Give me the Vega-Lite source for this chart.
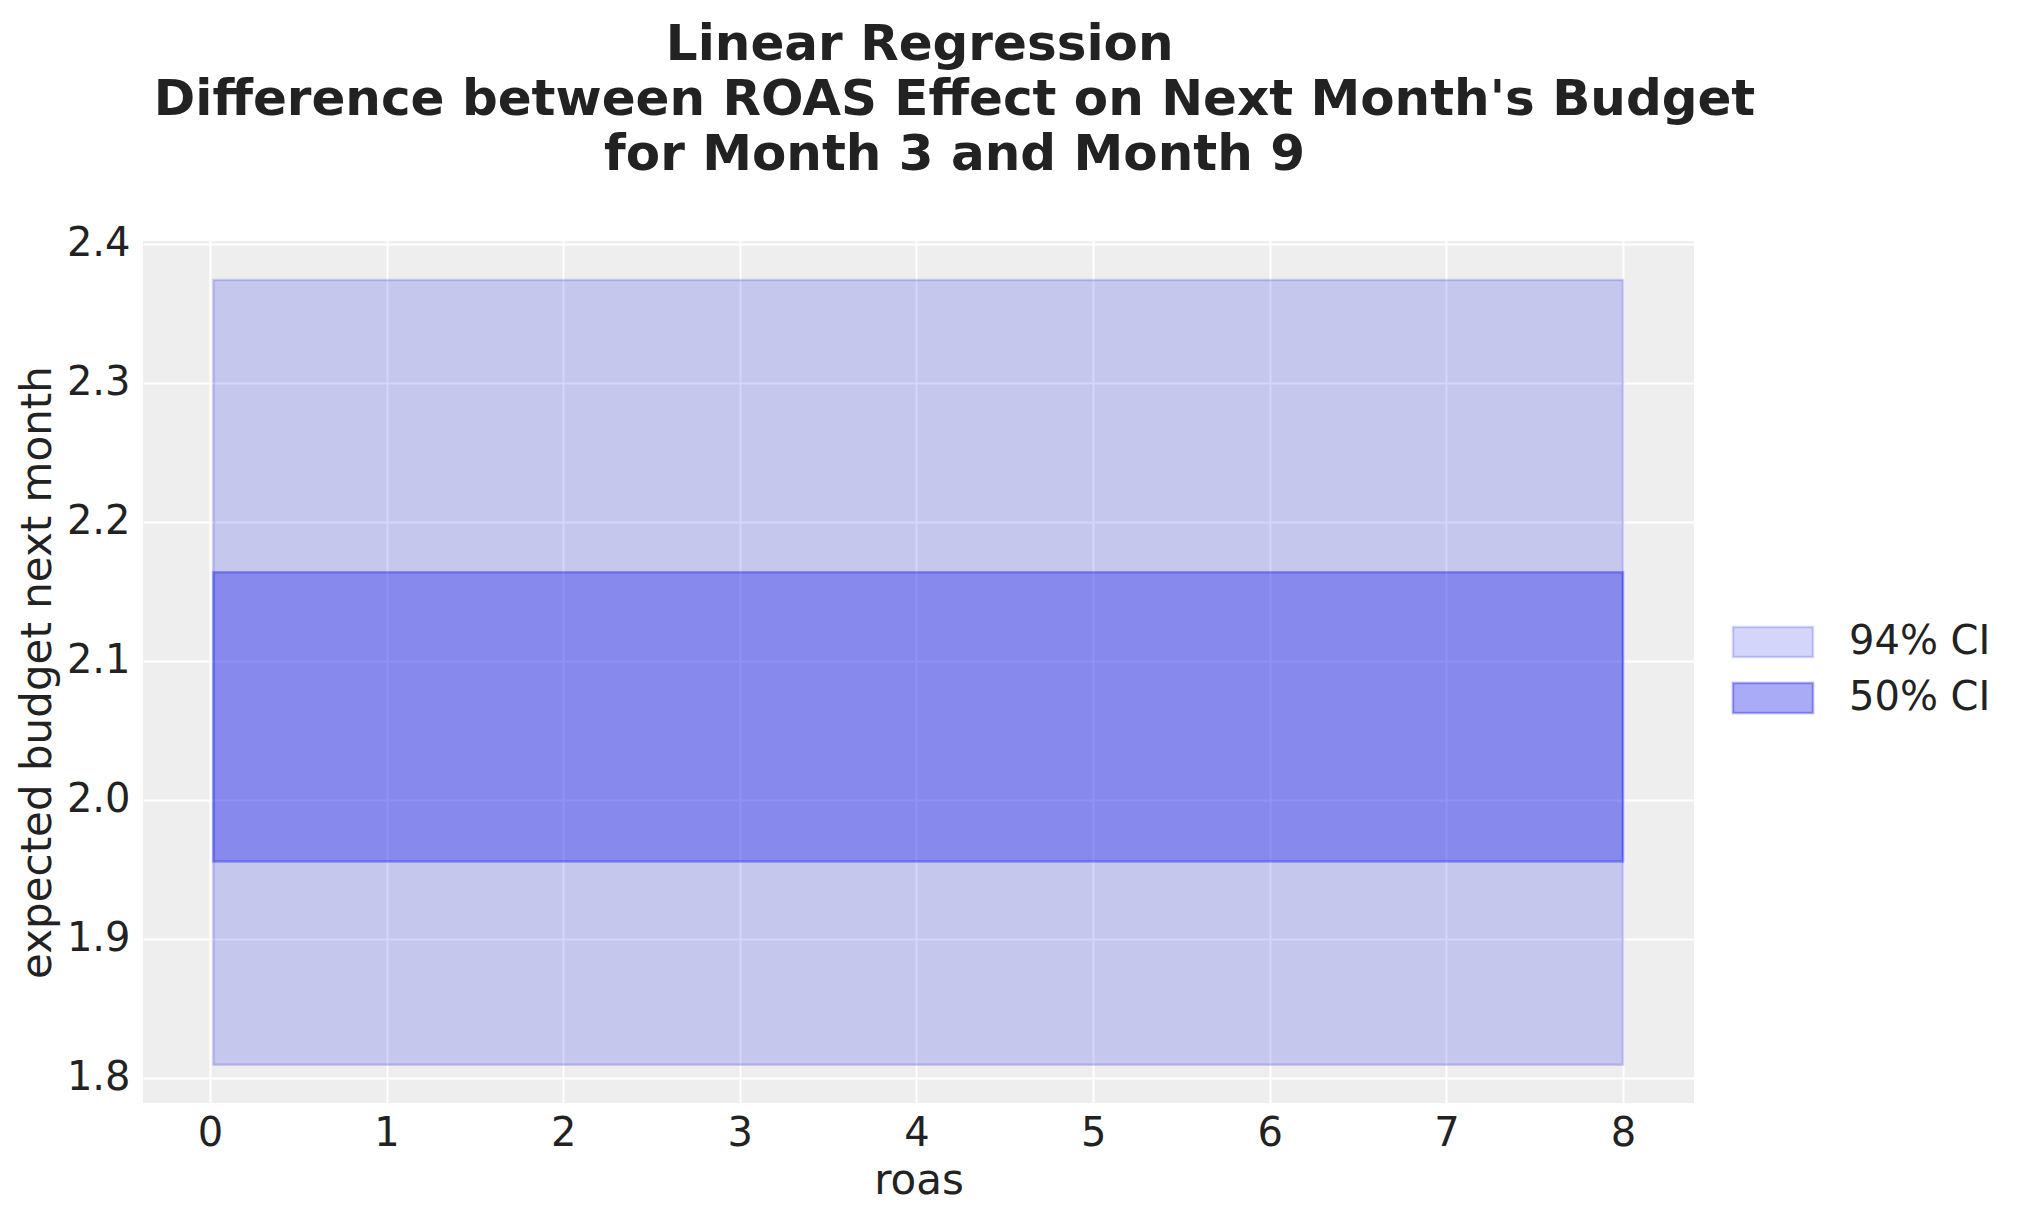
{
  "$schema": "https://vega.github.io/schema/vega-lite/v6.json",
  "width": 1551,
  "height": 862,
  "autosize": "none",
  "padding": {"left": 143, "top": 241, "right": 329, "bottom": 120},
  "background": "white",
  "title": {
    "text": [
      "Linear Regression\u00a0\u00a0\u00a0\u00a0\u200b",
      "Difference between ROAS Effect on Next Month's Budget",
      "for Month 3 and Month 9"
    ],
    "font": "DejaVu Sans",
    "fontSize": 50,
    "fontWeight": "bold",
    "color": "#222222",
    "lineHeight": 55,
    "anchor": "middle",
    "dx": 36,
    "offset": 44
  },
  "data": {
    "values": [
      {"ci": "94% CI", "roas": 0.02, "lower": 1.8093, "upper": 2.3738},
      {"ci": "94% CI", "roas": 8.0, "lower": 1.8093, "upper": 2.3738},
      {"ci": "50% CI", "roas": 0.02, "lower": 1.9555, "upper": 2.1636},
      {"ci": "50% CI", "roas": 8.0, "lower": 1.9555, "upper": 2.1636}
    ]
  },
  "mark": {"type": "area", "strokeWidth": 2.5},
  "encoding": {
    "x": {
      "field": "roas",
      "type": "quantitative",
      "title": "roas",
      "scale": {"domain": [-0.379, 8.402], "nice": false, "zero": false},
      "axis": {
        "values": [0, 1, 2, 3, 4, 5, 6, 7, 8],
        "labelPadding": 10,
        "titleY": 90,
        "titleBaseline": "alphabetic"
      }
    },
    "y": {
      "field": "lower",
      "type": "quantitative",
      "stack": null,
      "title": "expected budget next month",
      "scale": {"domain": [1.7818, 2.4018], "nice": false, "zero": false},
      "axis": {
        "values": [1.8, 1.9, 2.0, 2.1, 2.2, 2.3, 2.4],
        "format": ".1f",
        "labelPadding": 13,
        "titleX": -93,
        "titleY": 431,
        "titleAngle": 270,
        "titleAlign": "center",
        "titleBaseline": "alphabetic"
      }
    },
    "y2": {"field": "upper"},
    "color": {
      "field": "ci",
      "type": "nominal",
      "scale": {
        "domain": ["94% CI", "50% CI"],
        "range": ["rgba(42,46,236,0.2)", "rgba(42,46,236,0.4)"]
      },
      "legend": {
        "title": null,
        "orient": "none",
        "legendX": 1610,
        "legendY": 381,
        "padding": 0,
        "symbolType": "M-2.667,-1H2.667V1H-2.667Z",
        "symbolSize": 900,
        "symbolStrokeWidth": 2.5,
        "labelFont": "DejaVu Sans",
        "labelFontSize": 40,
        "labelColor": "#222222",
        "labelOffset": 56,
        "rowPadding": 16,
        "encode": {
          "symbols": {"update": {"stroke": {"scale": "color", "field": "value"}}}
        }
      }
    },
    "stroke": {
      "field": "ci",
      "type": "nominal",
      "scale": {
        "domain": ["94% CI", "50% CI"],
        "range": ["rgba(42,46,236,0.2)", "rgba(42,46,236,0.4)"]
      },
      "legend": null
    }
  },
  "config": {
    "view": {"fill": "#eeeeee", "stroke": null},
    "axis": {
      "grid": true,
      "gridColor": "#ffffff",
      "gridWidth": 2,
      "gridOpacity": 1,
      "domain": false,
      "ticks": false,
      "tickSize": 0,
      "labelFlush": false,
      "labelOverlap": false,
      "labelFont": "DejaVu Sans",
      "labelFontSize": 40,
      "labelColor": "#222222",
      "titleFont": "DejaVu Sans",
      "titleFontSize": 42,
      "titleFontWeight": "normal",
      "titleColor": "#222222"
    }
  }
}
